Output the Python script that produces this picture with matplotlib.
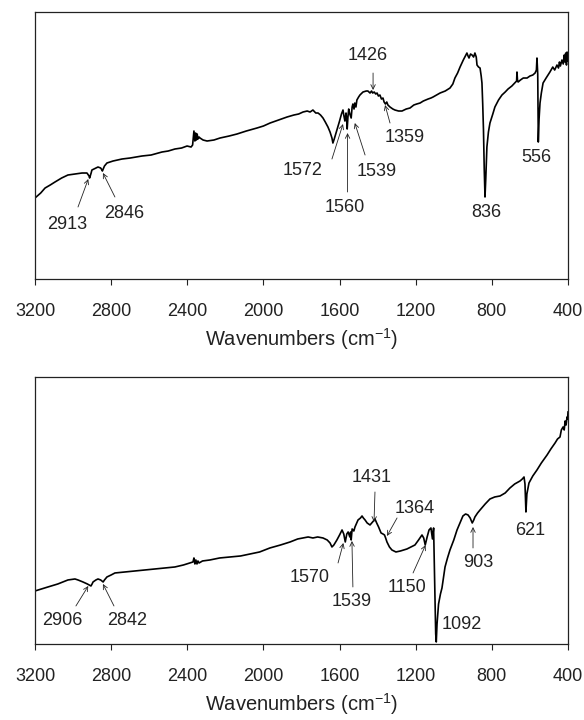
import matplotlib as mpl
import matplotlib.pyplot as plt

mpl.rcParams["font.family"] = ["Liberation Sans", "DejaVu Sans"]
mpl.rcParams["mathtext.default"] = "regular"
mpl.rcParams["axes.unicode_minus"] = True

# spectrum (a): wavenumber (cm-1) and transmittance (a.u.)
wn_a = [3200, 3170, 3147, 3120, 3095, 3060, 3027, 2990, 2953, 2927, 2916, 2913, 2905, 2901,
        2880, 2869, 2855, 2848, 2846, 2835, 2822, 2790, 2743, 2700, 2638, 2590, 2533, 2500,
        2465, 2430, 2401, 2380, 2372, 2365, 2360, 2356, 2352, 2348, 2344, 2338, 2333, 2317,
        2296, 2260, 2228, 2180, 2139, 2090, 2034, 2000, 1965, 1920, 1876, 1840, 1815, 1792,
        1770, 1755, 1740, 1725, 1713, 1700, 1687, 1675, 1661, 1650, 1640, 1635, 1628, 1614,
        1600, 1590, 1582, 1577, 1572, 1566, 1563, 1560, 1556, 1552, 1546, 1539, 1534, 1530,
        1524, 1520, 1514, 1509, 1500, 1493, 1477, 1460, 1451, 1440, 1432, 1426, 1418, 1410,
        1403, 1396, 1388, 1380, 1372, 1366, 1359, 1352, 1346, 1335, 1320, 1309, 1290, 1272,
        1250, 1230, 1210, 1195, 1177, 1160, 1135, 1120, 1109, 1090, 1072, 1045, 1020, 1005,
        994, 980, 967, 950, 931, 925, 920, 912, 904, 896, 889, 882, 878, 870, 862, 856,
        852, 848, 844, 840, 836, 832, 826, 818, 810, 795, 784, 765, 747, 730, 715, 695,
        680, 670, 668, 665, 662, 650, 635, 615, 600, 585, 573, 566, 563, 559, 556, 552,
        547, 540, 531, 515, 495, 480, 470, 458, 450, 445, 440, 432, 425, 420, 416, 412,
        408, 405, 402, 400]
tr_a = [81, 86, 91, 94, 97, 101, 104, 105, 106, 106, 103, 101, 106, 109,
        111, 112, 111, 109, 108, 113, 116, 118, 120, 121, 123, 124, 127, 128,
        130, 131, 133, 132, 134, 148, 138, 146, 139, 145, 140, 142, 141, 139,
        138, 139, 141, 143, 145, 148, 151, 153, 156, 159, 162, 164, 165, 167,
        168, 167, 169, 166, 166, 164, 161, 157, 152, 147, 141, 136, 140, 149,
        158, 165, 169, 163, 158, 166, 160, 150, 162, 170, 165, 161, 172, 175,
        170, 176, 172, 179, 182, 184, 187, 188, 188, 186, 188, 186, 187, 185,
        186, 183, 184, 180, 181, 177, 175, 177, 174, 172, 170, 169, 168, 168,
        170, 171, 174, 175, 176, 178, 180, 181, 182, 184, 186, 188, 191, 195,
        201, 206, 212, 219, 226, 223, 221, 225, 224, 222, 226, 222, 214, 212, 211, 203,
        196, 175, 149, 110, 82, 100, 132, 147, 156, 165, 172, 179, 184, 187, 190, 193,
        196, 198, 207, 198, 197, 199, 201, 201, 203, 204, 206, 209, 221, 205, 137, 160,
        176, 186, 196, 201, 207, 212, 209, 214, 211, 217, 213, 219, 215, 224, 217, 226,
        214, 227, 218, 219]

# spectrum (b)
wn_b = [3200, 3165, 3132, 3080, 3027, 2990, 2974, 2948, 2925, 2906, 2900, 2895, 2880, 2869,
        2855, 2842, 2835, 2822, 2800, 2780, 2730, 2675, 2620, 2570, 2520, 2465, 2420, 2386,
        2370, 2365, 2360, 2355, 2349, 2344, 2338, 2320, 2281, 2230, 2176, 2120, 2071, 2020,
        1966, 1910, 1860, 1820, 1792, 1765, 1740, 1715, 1687, 1665, 1650, 1640, 1630, 1614,
        1600, 1587, 1578, 1570, 1562, 1555, 1546, 1542, 1539, 1534, 1525, 1519, 1510, 1503,
        1490, 1482, 1475, 1466, 1455, 1440, 1431, 1422, 1414, 1405, 1395, 1382, 1372, 1364,
        1358, 1351, 1338, 1325, 1304, 1280, 1246, 1225, 1204, 1185, 1167, 1158, 1150, 1140,
        1130, 1120, 1112, 1106, 1100, 1095, 1092, 1088, 1080, 1070, 1062, 1055, 1046, 1033,
        1020, 1000, 983, 965, 952, 938, 925, 914, 903, 895, 889, 875, 862, 835, 810, 785,
        757, 730, 705, 680, 652, 640, 631, 626, 621, 616, 605, 585, 563, 540, 510, 490,
        468, 455, 442, 435, 426, 420, 415, 410, 405, 402, 400]
tr_b = [53, 55, 57, 60, 64, 65, 64, 62, 60, 58, 60, 62, 64, 65,
        64, 62, 64, 67, 69, 71, 72, 73, 74, 75, 76, 77, 79, 81,
        82, 86, 80, 84, 80, 83, 81, 83, 84, 86, 87, 88, 90, 92,
        96, 99, 102, 105, 106, 107, 106, 107, 106, 104, 101, 97, 99, 104,
        109, 114, 110, 102, 110, 112, 107, 112, 104, 115, 113, 117, 121, 124,
        126, 128, 126, 124, 121, 119, 121, 123, 125, 121, 117, 111, 110, 109,
        106, 102, 97, 94, 92, 93, 95, 97, 99, 104, 109, 106, 99, 107,
        114, 116, 105, 116, 60, 10, 2, 20, 40, 50, 56, 65, 77, 86,
        94, 104, 114, 122, 128, 130, 129, 126, 121, 124, 127, 131, 134, 140, 145, 147,
        148, 151, 156, 160, 163, 165, 167, 160, 132, 150, 161, 168, 174, 181, 189, 195,
        201, 205, 207, 214, 217, 214, 223, 219, 227, 225, 232]

ticks = [3200, 2800, 2400, 2000, 1600, 1200, 800, 400]

# peak labels: (text, text position, arrow tail, arrow head)
labels_a = [("2913", (3032, 55), (2974, 72), (2920, 100)),
            ("2846", (2732, 66), (2780, 82), (2843, 106)),
            ("1572", (1792, 109), (1640, 120), (1582, 155)),
            ("1560", (1571, 72), (1558, 87), (1558, 146)),
            ("1539", (1403, 108), (1466, 124), (1520, 156)),
            ("1426", (1451, 224), (1424, 206), (1424, 189)),
            ("1359", (1256, 142), (1335, 156), (1361, 174)),
            ("836", (831, 67), None, None),
            ("556", (568, 122), None, None)]
labels_b = [("2906", (3058, 23), (2985, 38), (2920, 58)),
            ("2842", (2717, 23), (2785, 38), (2843, 60)),
            ("1570", (1755, 66), (1608, 81), (1580, 101)),
            ("1539", (1535, 42), (1530, 57), (1535, 103)),
            ("1431", (1430, 166), (1414, 152), (1419, 122)),
            ("1364", (1204, 135), (1298, 126), (1351, 108)),
            ("1150", (1246, 56), (1214, 71), (1148, 99)),
            ("1092", (957, 19), None, None),
            ("903", (873, 81), (899, 96), (899, 117)),
            ("621", (600, 113), None, None)]

fig = plt.figure(figsize=(5.84, 7.2), dpi=100)
ax1 = fig.add_axes([0.0599, 0.6125, 0.9127, 0.3708])
ax2 = fig.add_axes([0.0599, 0.1056, 0.9127, 0.3708])

for ax, wn, tr, labels in [(ax1, wn_a, tr_a, labels_a), (ax2, wn_b, tr_b, labels_b)]:
    ax.plot(wn, tr, color="black", lw=1.2)
    ax.set_xlim(3200, 400)
    ax.set_ylim(0, 267)
    ax.set_xticks(ticks)
    ax.set_yticks([])
    ax.tick_params(axis="x", direction="out", length=4.5, width=0.8, pad=13,
                   labelsize=13, colors="#222222")
    for sp in ax.spines.values():
        sp.set_linewidth(0.9)
        sp.set_color("#222222")
    ax.set_xlabel("Wavenumbers (cm$^{-1}$)", fontsize=14.5, labelpad=4, color="#222222")
    for txt, pos, tail, head in labels:
        ax.text(pos[0], pos[1], txt, ha="center", va="center", fontsize=13, color="#222222")
        if tail is not None:
            ax.annotate("", xy=head, xytext=tail,
                        arrowprops=dict(arrowstyle="->", lw=0.6, color="#222222",
                                        shrinkA=0, shrinkB=0, mutation_scale=8))

fig.savefig("out.png", dpi=100)
